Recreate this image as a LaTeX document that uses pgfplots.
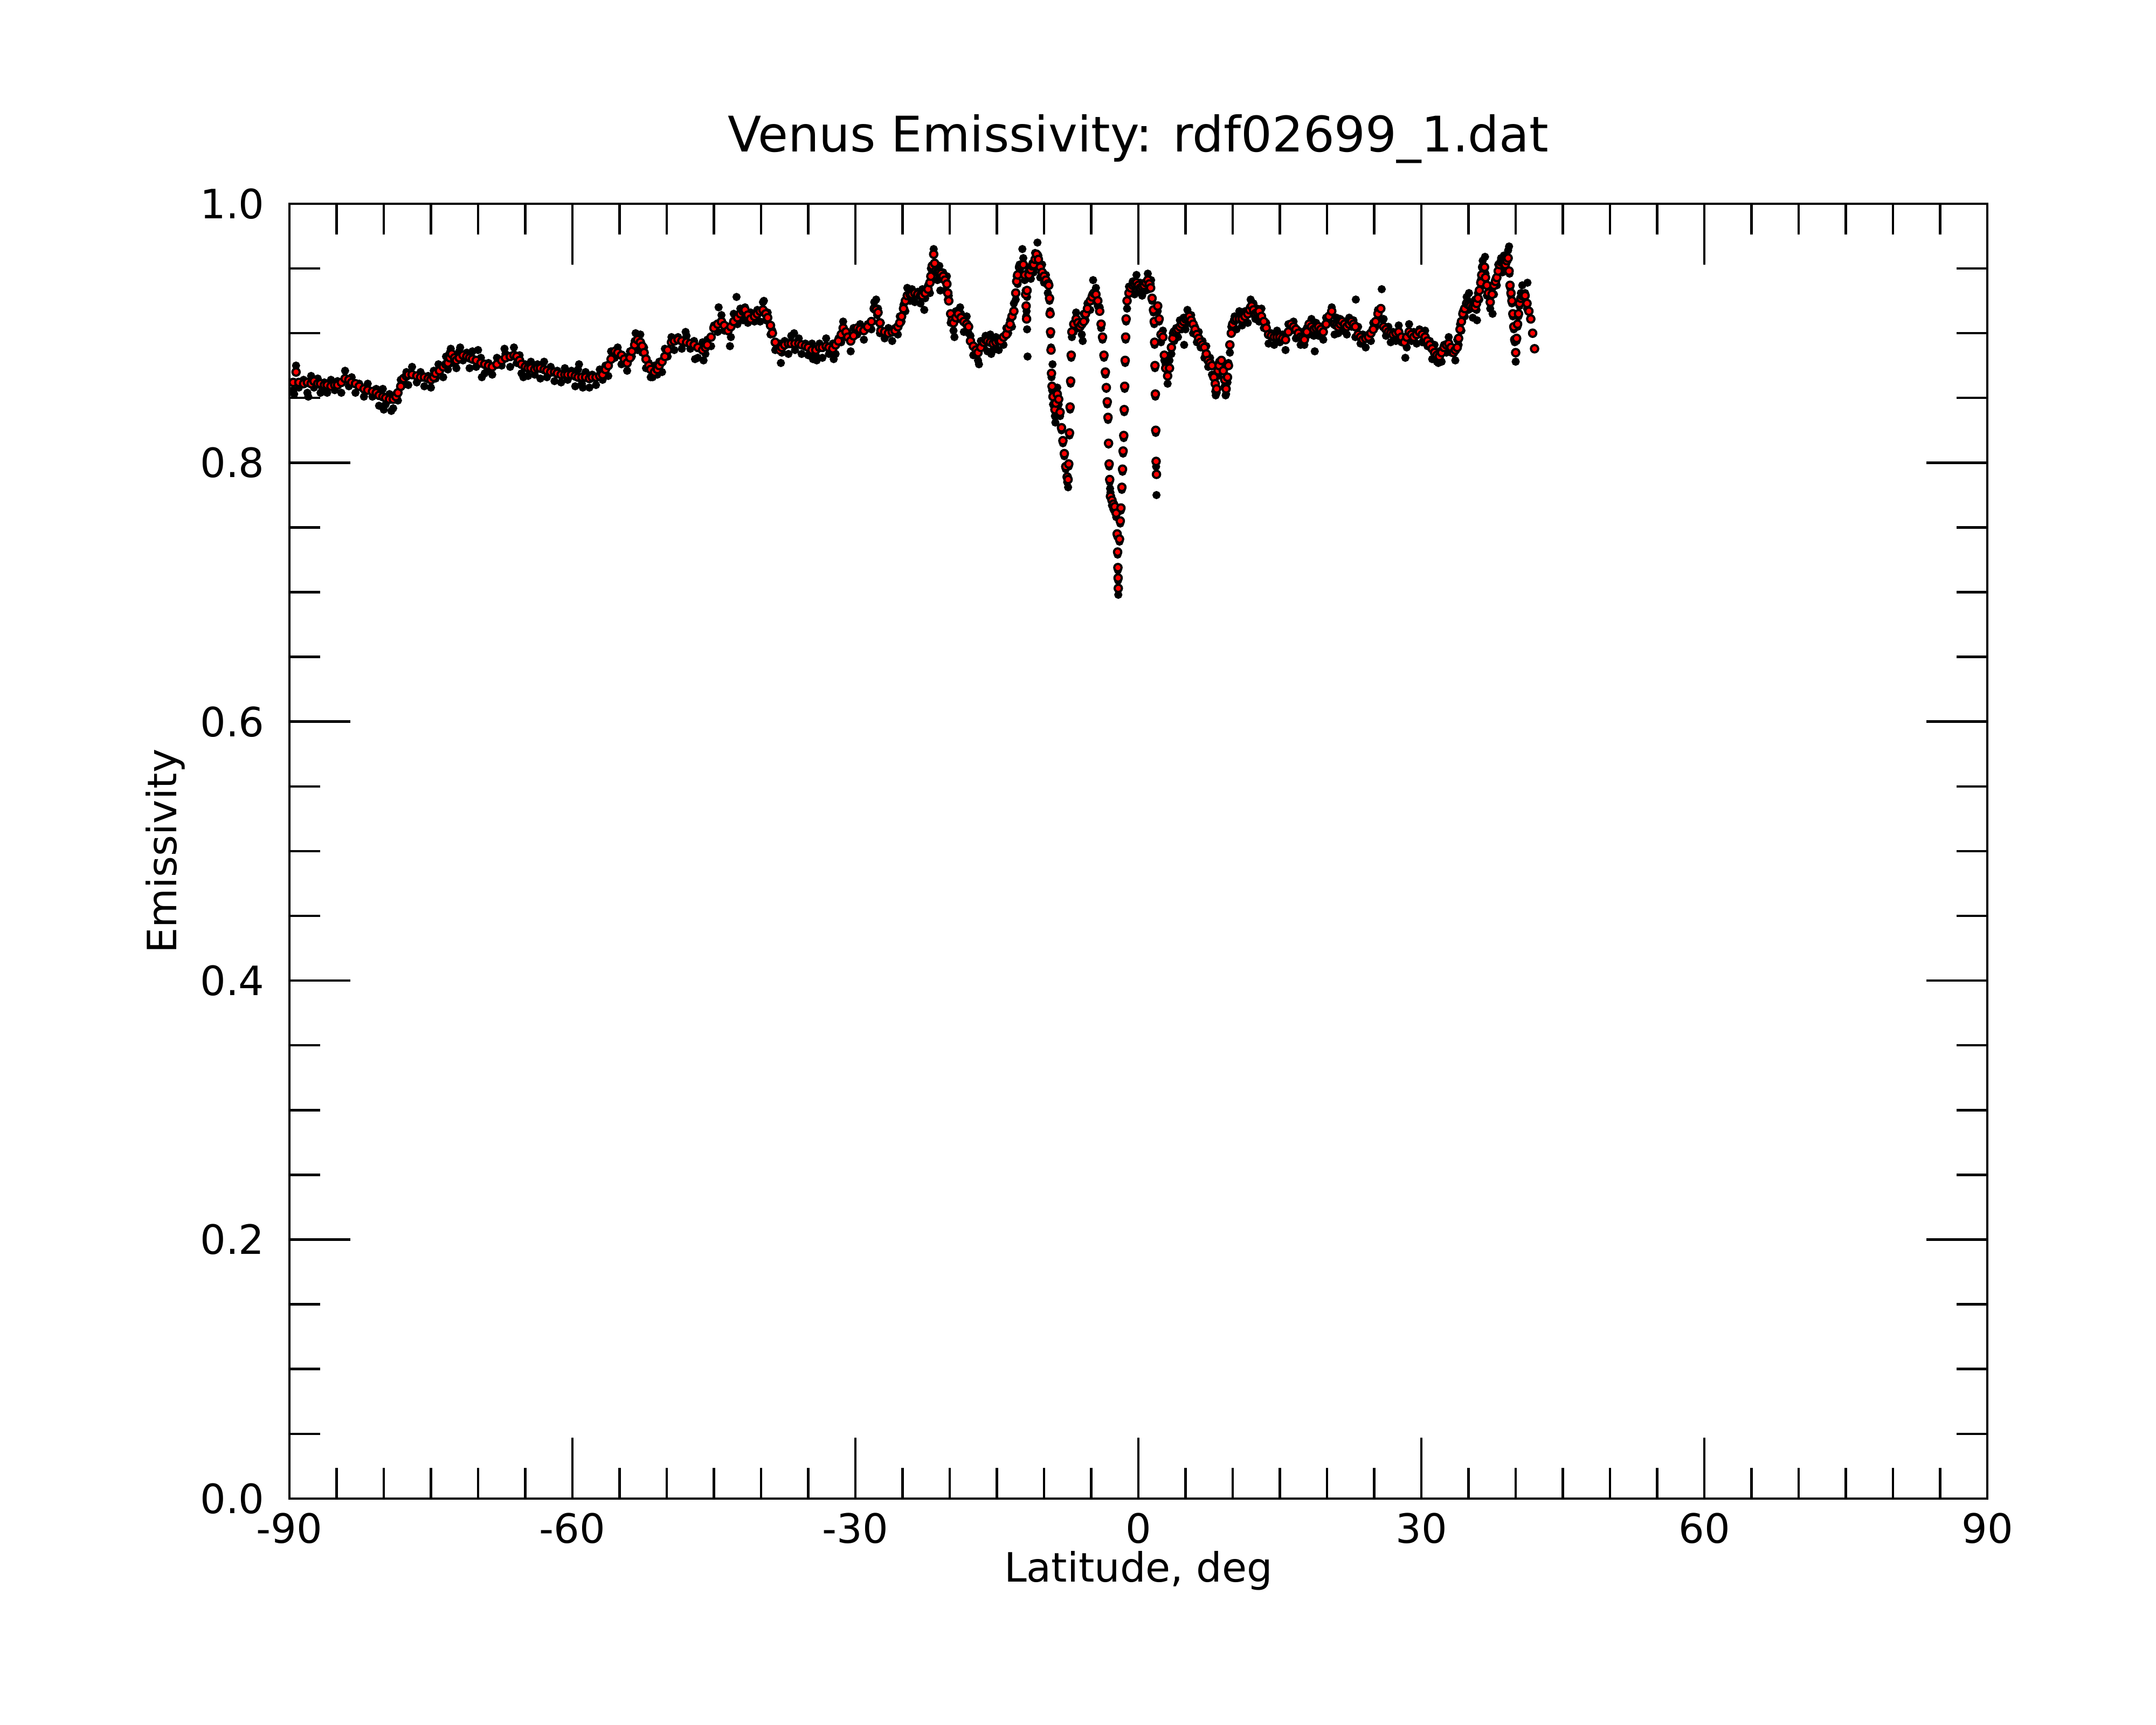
\documentclass[border=0pt]{standalone}
\usepackage{fontspec}
\setmainfont{DejaVu Sans}
\usepackage{pgfplots}
\pgfplotsset{compat=1.18}
\begin{document}
\begin{tikzpicture}
\useasboundingbox (0,0) rectangle (400pt,320pt);
\begin{axis}[
  at={(53.7pt,42pt)}, anchor=south west,
  width=315.0pt, height=240.2pt, scale only axis,
  xmin=-90, xmax=90, ymin=0, ymax=1,
  xtick={-90,-60,-30,0,30,60,90},
  ytick={0,0.2,0.4,0.6,0.8,1.0},
  minor x tick num=5, minor y tick num=3,
  xtick pos=both, ytick pos=both,
  xticklabel pos=lower, yticklabel pos=left,
  tick align=inside,
  major tick length=11.3pt, minor tick length=5.7pt,
  every tick/.style={black, line width=0.45pt},
  axis line style={line width=0.45pt},
  /pgf/number format/assume math mode=true,
  tick label style={font=\fontsize{7.5}{9}\selectfont},
  xticklabel style={yshift=0.8pt},
  yticklabel style={xshift=-1.1pt, /pgf/number format/.cd, fixed, fixed zerofill, precision=1},
  title={Venus Emissivity: rdf02699\_1.dat},
  title style={at={(axis description cs:0.5,1.040)}, anchor=base, yshift=-6pt, font=\fontsize{9.1}{11}\selectfont},
  xlabel={Latitude, deg},
  xlabel style={at={(axis description cs:0.5,-0.0645)}, anchor=base, font=\fontsize{7.5}{9}\selectfont},
  ylabel={Emissivity},
  ylabel style={at={(axis description cs:-0.0665,0.5)}, anchor=base, font=\fontsize{7.5}{9}\selectfont},
]
% raw measurements (black)
\addplot[only marks, mark=*, mark size=0.55pt, mark options={draw=none, fill=black}] table {
x y
-89.6 0.856
-89.5 0.853
-89.3 0.875
-89.0 0.858
-88.5 0.864
-88.1 0.854
-88.0 0.851
-87.7 0.867
-87.4 0.858
-87.0 0.865
-86.7 0.854
-86.5 0.857
-86.3 0.862
-86.0 0.854
-85.6 0.864
-85.2 0.856
-84.9 0.863
-84.5 0.854
-84.1 0.871
-83.7 0.859
-83.4 0.866
-83.0 0.854
-82.6 0.861
-82.1 0.851
-81.7 0.861
-81.2 0.851
-80.8 0.857
-80.5 0.844
-80.1 0.857
-80.0 0.841
-79.8 0.845
-79.4 0.853
-79.2 0.840
-79.0 0.842
-78.7 0.853
-78.5 0.848
-78.2 0.864
-77.9 0.861
-77.6 0.870
-77.4 0.860
-77.0 0.874
-76.5 0.862
-76.1 0.870
-75.7 0.859
-75.3 0.867
-75.0 0.858
-74.7 0.871
-74.5 0.865
-74.2 0.876
-74.1 0.874
-73.7 0.866
-73.4 0.882
-73.2 0.872
-73.0 0.885
-72.9 0.888
-72.8 0.877
-72.5 0.883
-72.3 0.873
-72.0 0.886
-71.9 0.889
-71.6 0.879
-71.2 0.885
-70.9 0.873
-70.6 0.886
-70.2 0.874
-70.0 0.887
-69.7 0.881
-69.6 0.866
-69.3 0.869
-69.0 0.872
-68.9 0.877
-68.5 0.868
-68.0 0.881
-67.5 0.875
-67.2 0.888
-67.1 0.884
-66.6 0.874
-66.2 0.889
-65.9 0.877
-65.6 0.883
-65.4 0.869
-65.2 0.866
-65.0 0.876
-64.7 0.867
-64.4 0.878
-64.0 0.868
-63.7 0.876
-63.4 0.865
-63.0 0.878
-62.7 0.866
-62.3 0.874
-61.9 0.863
-61.6 0.871
-61.2 0.862
-60.8 0.873
-60.5 0.864
-60.1 0.871
-59.7 0.859
-59.4 0.872
-59.3 0.876
-59.0 0.861
-58.9 0.858
-58.6 0.870
-58.2 0.858
-57.9 0.868
-57.5 0.860
-57.1 0.872
-56.8 0.864
-56.5 0.875
-56.2 0.867
-55.9 0.886
-55.5 0.881
-55.2 0.889
-54.8 0.876
-54.5 0.882
-54.2 0.871
-53.9 0.886
-53.7 0.882
-53.4 0.894
-53.3 0.900
-53.1 0.887
-52.8 0.899
-52.6 0.885
-52.4 0.889
-52.2 0.873
-51.9 0.877
-51.7 0.866
-51.5 0.866
-51.3 0.875
-51.0 0.868
-50.8 0.878
-50.5 0.870
-50.2 0.888
-49.9 0.882
-49.5 0.897
-49.2 0.887
-48.8 0.897
-48.4 0.888
-48.0 0.901
-47.9 0.898
-47.5 0.888
-47.1 0.894
-47.0 0.880
-46.7 0.881
-46.2 0.893
-46.1 0.879
-45.9 0.884
-45.7 0.895
-45.3 0.890
-45.0 0.906
-44.6 0.901
-44.5 0.920
-44.2 0.914
-43.9 0.902
-43.5 0.905
-43.3 0.890
-43.2 0.897
-42.9 0.915
-42.6 0.928
-42.5 0.907
-42.2 0.919
-41.9 0.910
-41.7 0.920
-41.4 0.908
-41.1 0.916
-40.7 0.909
-40.4 0.918
-40.1 0.909
-39.8 0.924
-39.7 0.925
-39.5 0.910
-39.3 0.916
-39.0 0.899
-38.8 0.902
-38.5 0.887
-38.0 0.892
-37.9 0.877
-37.8 0.885
-37.5 0.894
-37.1 0.884
-36.8 0.898
-36.5 0.900
-36.4 0.887
-36.0 0.896
-35.7 0.884
-35.3 0.892
-35.0 0.883
-34.6 0.892
-34.5 0.880
-34.2 0.883
-34.1 0.879
-33.8 0.892
-33.5 0.881
-33.1 0.896
-32.8 0.884
-32.4 0.892
-32.3 0.880
-32.1 0.884
-31.8 0.896
-31.5 0.893
-31.3 0.909
-31.0 0.897
-30.8 0.900
-30.5 0.886
-30.2 0.904
-29.8 0.899
-29.5 0.907
-29.1 0.895
-28.7 0.907
-28.3 0.903
-28.0 0.924
-27.8 0.926
-27.7 0.914
-27.6 0.919
-27.4 0.900
-27.3 0.908
-26.9 0.896
-26.5 0.904
-26.1 0.894
-25.8 0.904
-25.5 0.899
-25.3 0.913
-25.1 0.909
-24.9 0.922
-24.7 0.917
-24.5 0.935
-24.2 0.925
-24.0 0.934
-23.7 0.924
-23.4 0.932
-23.1 0.923
-22.9 0.934
-22.7 0.918
-22.6 0.927
-22.3 0.937
-22.1 0.931
-22.0 0.950
-21.85 0.947
-21.7 0.965
-21.6 0.947
-21.5 0.950
-21.3 0.941
-21.1 0.952
-21.0 0.933
-20.9 0.942
-20.7 0.947
-20.5 0.933
-20.3 0.944
-20.2 0.926
-20.1 0.929
-19.9 0.908
-19.75 0.912
-19.6 0.902
-19.5 0.897
-19.35 0.917
-19.1 0.911
-18.9 0.920
-18.8 0.915
-18.5 0.901
-18.2 0.913
-18.0 0.900
-17.8 0.898
-17.5 0.883
-17.2 0.889
-17.0 0.879
-16.9 0.876
-16.7 0.894
-16.4 0.889
-16.2 0.898
-16.0 0.886
-15.7 0.899
-15.6 0.884
-15.4 0.887
-15.1 0.897
-14.8 0.887
-14.6 0.896
-14.3 0.891
-14.0 0.904
-13.8 0.900
-13.6 0.910
-13.4 0.905
-13.2 0.923
-13.0 0.926
-12.9 0.944
-12.8 0.938
-12.6 0.953
-12.4 0.946
-12.3 0.965
-12.2 0.958
-12.05 0.941
-11.95 0.933
-11.9 0.913
-11.85 0.917
-11.8 0.928
-11.8 0.903
-11.75 0.882
-11.6 0.949
-11.4 0.942
-11.25 0.954
-11.1 0.947
-10.95 0.962
-10.8 0.957
-10.7 0.970
-10.6 0.960
-10.4 0.943
-10.2 0.953
-10.0 0.939
-9.8 0.945
-9.6 0.931
-9.5 0.939
-9.42 0.925
-9.36 0.917
-9.31 0.899
-9.26 0.889
-9.21 0.866
-9.15 0.856
-9.1 0.876
-9.05 0.845
-8.85 0.836
-8.8 0.831
-8.75 0.850
-8.6 0.858
-8.45 0.845
-8.3 0.836
-8.15 0.825
-8.0 0.815
-7.85 0.805
-7.7 0.795
-7.55 0.785
-7.45 0.781
-7.38 0.797
-7.3 0.821
-7.24 0.841
-7.18 0.861
-7.12 0.881
-7.05 0.897
-6.85 0.901
-6.6 0.916
-6.4 0.904
-6.2 0.908
-6.0 0.899
-5.9 0.894
-5.8 0.915
-5.6 0.910
-5.4 0.923
-5.1 0.918
-4.9 0.930
-4.8 0.941
-4.7 0.925
-4.5 0.935
-4.3 0.921
-4.1 0.920
-3.95 0.904
-3.8 0.895
-3.65 0.881
-3.5 0.868
-3.4 0.857
-3.3 0.845
-3.22 0.833
-3.16 0.814
-3.1 0.797
-3.04 0.785
-3.0 0.780
-2.96 0.777
-2.8 0.767
-2.65 0.764
-2.5 0.762
-2.35 0.758
-2.25 0.743
-2.2 0.729
-2.17 0.717
-2.15 0.709
-2.13 0.698
-2.0 0.739
-1.92 0.753
-1.85 0.763
-1.75 0.779
-1.68 0.793
-1.62 0.807
-1.55 0.819
-1.5 0.839
-1.45 0.857
-1.4 0.877
-1.35 0.895
-1.3 0.909
-1.2 0.919
-1.0 0.936
-0.8 0.931
-0.6 0.940
-0.4 0.930
-0.2 0.945
0.0 0.932
0.2 0.939
0.4 0.929
0.6 0.939
0.8 0.933
1.0 0.946
1.15 0.934
1.3 0.938
1.35 0.941
1.45 0.925
1.6 0.916
1.68 0.907
1.72 0.891
1.76 0.873
1.8 0.851
1.84 0.823
1.88 0.797
1.92 0.775
2.05 0.917
2.2 0.909
2.4 0.893
2.6 0.902
2.75 0.879
2.9 0.876
3.1 0.861
3.3 0.879
3.5 0.884
3.65 0.900
3.8 0.894
4.0 0.904
4.2 0.897
4.4 0.910
4.6 0.903
4.8 0.912
4.85 0.891
5.0 0.903
5.2 0.918
5.4 0.908
5.6 0.914
5.8 0.900
6.0 0.905
6.2 0.893
6.4 0.901
6.6 0.889
6.8 0.894
7.0 0.881
7.2 0.890
7.4 0.874
7.6 0.881
7.8 0.868
8.0 0.868
8.15 0.855
8.2 0.852
8.3 0.854
8.45 0.867
8.55 0.878
8.8 0.871
9.0 0.877
9.15 0.859
9.25 0.852
9.3 0.853
9.45 0.862
9.55 0.877
9.7 0.885
9.85 0.905
10.0 0.903
10.2 0.913
10.4 0.903
10.7 0.917
11.0 0.906
11.3 0.917
11.6 0.908
11.8 0.920
11.9 0.926
12.0 0.915
12.2 0.923
12.4 0.911
12.6 0.919
12.8 0.909
13.05 0.919
13.3 0.904
13.55 0.908
13.8 0.892
14.1 0.900
14.4 0.891
14.7 0.902
15.0 0.893
15.3 0.899
15.6 0.887
15.9 0.907
16.2 0.902
16.45 0.909
16.7 0.896
16.95 0.902
17.2 0.891
17.4 0.901
17.6 0.891
17.85 0.904
18.1 0.899
18.35 0.911
18.6 0.898
18.7 0.886
18.85 0.908
19.1 0.898
19.35 0.905
19.6 0.895
19.9 0.912
20.2 0.909
20.5 0.920
20.8 0.899
21.0 0.912
21.2 0.900
21.4 0.911
21.6 0.902
21.85 0.909
22.1 0.899
22.35 0.912
22.6 0.905
22.8 0.910
23.0 0.897
23.05 0.926
23.3 0.905
23.55 0.892
23.8 0.899
24.1 0.889
24.4 0.899
24.65 0.894
24.9 0.908
25.15 0.905
25.4 0.918
25.7 0.911
25.8 0.934
26.0 0.911
26.25 0.898
26.5 0.905
26.75 0.893
27.0 0.901
27.3 0.894
27.6 0.906
27.9 0.893
28.2 0.896
28.3 0.881
28.45 0.889
28.7 0.907
28.95 0.894
29.2 0.901
29.5 0.892
29.8 0.903
30.1 0.893
30.4 0.902
30.65 0.890
30.9 0.894
31.15 0.880
31.4 0.891
31.65 0.878
31.8 0.877
31.9 0.886
32.15 0.878
32.4 0.891
32.65 0.885
32.9 0.897
33.15 0.885
33.4 0.888
33.6 0.879
33.8 0.895
33.95 0.891
34.1 0.907
34.25 0.902
34.4 0.917
34.6 0.913
34.8 0.928
35.0 0.918
35.05 0.931
35.2 0.924
35.45 0.912
35.7 0.926
35.85 0.918
35.9 0.910
36.0 0.931
36.15 0.926
36.3 0.941
36.4 0.939
36.5 0.956
36.7 0.947
36.75 0.959
36.8 0.946
36.95 0.929
37.1 0.937
37.3 0.919
37.5 0.934
37.55 0.915
37.7 0.930
37.85 0.942
38.0 0.937
38.15 0.953
38.3 0.949
38.45 0.958
38.6 0.947
38.75 0.960
38.9 0.948
39.05 0.960
39.2 0.964
39.3 0.967
39.35 0.946
39.4 0.935
39.5 0.929
39.6 0.923
39.7 0.913
39.8 0.903
39.9 0.893
40.0 0.878
40.1 0.894
40.2 0.905
40.3 0.913
40.4 0.921
40.55 0.931
40.7 0.937
40.85 0.926
41.0 0.931
41.2 0.919
41.25 0.939
};
% smoothed profile (red)
\addplot[only marks, mark=*, mark size=0.68pt, mark options={draw=none, fill=red}] table {
x y
-89.6 0.862
-89.3 0.870
-89.0 0.862
-88.5 0.861
-88.1 0.862
-87.7 0.861
-87.4 0.863
-87.0 0.861
-86.7 0.861
-86.3 0.860
-86.0 0.860
-85.6 0.859
-85.2 0.860
-84.9 0.860
-84.5 0.862
-84.1 0.865
-83.7 0.864
-83.4 0.862
-83.0 0.861
-82.6 0.859
-82.1 0.857
-81.7 0.856
-81.2 0.855
-80.8 0.854
-80.5 0.852
-80.1 0.851
-79.8 0.850
-79.4 0.849
-79.0 0.849
-78.7 0.851
-78.5 0.854
-78.2 0.859
-77.9 0.865
-77.6 0.867
-77.4 0.868
-77.0 0.868
-76.5 0.867
-76.1 0.866
-75.7 0.866
-75.3 0.865
-75.0 0.864
-74.7 0.866
-74.5 0.869
-74.1 0.871
-73.7 0.874
-73.4 0.876
-73.2 0.877
-73.0 0.881
-72.8 0.884
-72.5 0.881
-72.3 0.879
-72.0 0.881
-71.6 0.883
-71.2 0.882
-70.9 0.881
-70.6 0.880
-70.2 0.879
-69.7 0.877
-69.3 0.876
-68.9 0.875
-68.5 0.874
-68.0 0.876
-67.5 0.879
-67.1 0.881
-66.6 0.882
-66.2 0.883
-65.9 0.882
-65.6 0.879
-65.4 0.876
-65.0 0.874
-64.7 0.873
-64.4 0.873
-64.0 0.872
-63.7 0.873
-63.4 0.873
-63.0 0.872
-62.7 0.871
-62.3 0.870
-61.9 0.870
-61.6 0.869
-61.2 0.868
-60.8 0.868
-60.5 0.868
-60.1 0.868
-59.7 0.867
-59.4 0.866
-59.0 0.866
-58.6 0.866
-58.2 0.865
-57.9 0.866
-57.5 0.866
-57.1 0.867
-56.8 0.868
-56.5 0.872
-56.2 0.875
-55.9 0.880
-55.5 0.886
-55.2 0.885
-54.8 0.883
-54.5 0.880
-54.2 0.877
-53.9 0.881
-53.7 0.886
-53.4 0.891
-53.1 0.895
-52.8 0.893
-52.6 0.890
-52.4 0.885
-52.2 0.880
-51.9 0.875
-51.7 0.872
-51.3 0.870
-51.0 0.872
-50.8 0.875
-50.5 0.878
-50.2 0.882
-49.9 0.887
-49.5 0.893
-49.2 0.894
-48.8 0.895
-48.4 0.894
-47.9 0.893
-47.5 0.892
-47.1 0.891
-46.7 0.889
-46.2 0.887
-45.9 0.889
-45.7 0.891
-45.3 0.897
-45.0 0.904
-44.6 0.907
-44.2 0.909
-43.9 0.906
-43.5 0.902
-43.2 0.905
-42.9 0.909
-42.5 0.912
-42.2 0.915
-41.9 0.917
-41.7 0.918
-41.4 0.914
-41.1 0.911
-40.7 0.913
-40.4 0.915
-40.1 0.917
-39.8 0.918
-39.5 0.915
-39.3 0.912
-39.0 0.906
-38.8 0.900
-38.5 0.893
-38.0 0.887
-37.8 0.889
-37.5 0.891
-37.1 0.892
-36.8 0.892
-36.4 0.892
-36.0 0.892
-35.7 0.891
-35.3 0.890
-35.0 0.889
-34.6 0.887
-34.2 0.887
-33.8 0.889
-33.5 0.889
-33.1 0.890
-32.8 0.889
-32.4 0.888
-32.1 0.891
-31.8 0.894
-31.5 0.899
-31.3 0.904
-31.0 0.901
-30.8 0.897
-30.5 0.894
-30.2 0.898
-29.8 0.904
-29.5 0.903
-29.1 0.902
-28.7 0.905
-28.3 0.909
-28.0 0.919
-27.8 0.918
-27.6 0.916
-27.4 0.908
-27.3 0.902
-26.9 0.901
-26.5 0.900
-26.1 0.901
-25.8 0.902
-25.5 0.905
-25.3 0.908
-25.1 0.913
-24.9 0.919
-24.7 0.925
-24.5 0.929
-24.2 0.930
-24.0 0.930
-23.7 0.931
-23.4 0.930
-23.1 0.929
-22.9 0.929
-22.6 0.931
-22.3 0.934
-22.1 0.939
-22.0 0.944
-21.85 0.952
-21.7 0.961
-21.6 0.954
-21.5 0.948
-21.3 0.947
-21.1 0.947
-20.9 0.946
-20.7 0.944
-20.5 0.941
-20.3 0.938
-20.2 0.931
-20.1 0.925
-19.9 0.915
-19.75 0.910
-19.6 0.908
-19.35 0.912
-19.1 0.915
-18.8 0.912
-18.5 0.909
-18.2 0.907
-18.0 0.905
-17.8 0.894
-17.5 0.890
-17.2 0.887
-17.0 0.885
-16.7 0.889
-16.4 0.893
-16.2 0.895
-16.0 0.894
-15.7 0.893
-15.4 0.892
-15.1 0.893
-14.8 0.894
-14.6 0.894
-14.3 0.897
-14.0 0.899
-13.8 0.904
-13.6 0.907
-13.4 0.913
-13.2 0.917
-13.0 0.931
-12.9 0.940
-12.8 0.945
-12.6 0.951
-12.4 0.952
-12.2 0.953
-12.05 0.945
-11.95 0.930
-11.9 0.921
-11.85 0.911
-11.8 0.933
-11.6 0.945
-11.4 0.949
-11.25 0.952
-11.1 0.953
-10.95 0.957
-10.8 0.961
-10.6 0.957
-10.4 0.951
-10.2 0.947
-10.0 0.944
-9.8 0.941
-9.6 0.938
-9.5 0.937
-9.42 0.927
-9.36 0.915
-9.31 0.901
-9.26 0.887
-9.21 0.869
-9.15 0.859
-9.05 0.851
-8.85 0.841
-8.75 0.846
-8.6 0.853
-8.45 0.849
-8.3 0.839
-8.15 0.827
-8.0 0.817
-7.85 0.807
-7.7 0.797
-7.55 0.789
-7.45 0.787
-7.38 0.799
-7.3 0.823
-7.24 0.843
-7.18 0.863
-7.12 0.883
-7.05 0.901
-6.85 0.907
-6.6 0.911
-6.4 0.908
-6.2 0.905
-6.0 0.907
-5.8 0.909
-5.6 0.915
-5.4 0.919
-5.1 0.925
-4.9 0.928
-4.7 0.931
-4.5 0.930
-4.3 0.925
-4.1 0.917
-3.95 0.907
-3.8 0.897
-3.65 0.883
-3.5 0.870
-3.4 0.858
-3.3 0.847
-3.22 0.835
-3.16 0.815
-3.1 0.799
-3.04 0.787
-2.96 0.774
-2.8 0.771
-2.65 0.768
-2.5 0.766
-2.35 0.761
-2.25 0.745
-2.2 0.731
-2.17 0.719
-2.15 0.711
-2.13 0.703
-2.0 0.741
-1.92 0.755
-1.85 0.765
-1.75 0.781
-1.68 0.795
-1.62 0.809
-1.55 0.821
-1.5 0.841
-1.45 0.859
-1.4 0.879
-1.35 0.897
-1.3 0.911
-1.2 0.925
-1.0 0.931
-0.8 0.935
-0.6 0.937
-0.4 0.938
-0.2 0.939
0.0 0.937
0.2 0.935
0.4 0.936
0.6 0.937
0.8 0.939
1.0 0.941
1.15 0.938
1.3 0.935
1.45 0.927
1.6 0.918
1.68 0.909
1.72 0.893
1.76 0.875
1.8 0.853
1.84 0.825
1.88 0.801
1.92 0.791
2.05 0.921
2.2 0.911
2.4 0.899
2.6 0.897
2.75 0.883
2.9 0.873
3.1 0.867
3.3 0.873
3.5 0.889
3.65 0.896
3.8 0.901
4.0 0.902
4.2 0.903
4.4 0.905
4.6 0.907
4.8 0.909
5.0 0.911
5.2 0.912
5.4 0.913
5.6 0.910
5.8 0.907
6.0 0.903
6.2 0.899
6.4 0.896
6.6 0.893
6.8 0.891
7.0 0.889
7.2 0.884
7.4 0.879
7.6 0.877
7.8 0.875
8.0 0.866
8.15 0.861
8.3 0.857
8.45 0.871
8.55 0.875
8.8 0.879
9.0 0.871
9.15 0.864
9.3 0.857
9.45 0.866
9.55 0.875
9.7 0.891
9.85 0.900
10.0 0.907
10.2 0.910
10.4 0.911
10.7 0.911
11.0 0.911
11.3 0.913
11.6 0.915
11.8 0.918
12.0 0.921
12.2 0.918
12.4 0.915
12.6 0.916
12.8 0.917
13.05 0.913
13.3 0.909
13.55 0.904
13.8 0.899
14.1 0.898
14.4 0.897
14.7 0.897
15.0 0.897
15.3 0.896
15.6 0.895
15.9 0.901
16.2 0.907
16.45 0.905
16.7 0.903
16.95 0.900
17.2 0.897
17.4 0.896
17.6 0.895
17.85 0.901
18.1 0.907
18.35 0.905
18.6 0.903
18.85 0.904
19.1 0.905
19.35 0.903
19.6 0.901
19.9 0.907
20.2 0.913
20.5 0.917
20.8 0.907
21.0 0.906
21.2 0.905
21.4 0.907
21.6 0.909
21.85 0.907
22.1 0.905
22.35 0.907
22.6 0.909
22.8 0.907
23.0 0.905
23.3 0.899
23.55 0.897
23.8 0.895
24.1 0.896
24.4 0.897
24.65 0.900
24.9 0.903
25.15 0.909
25.4 0.915
25.7 0.919
26.0 0.905
26.25 0.903
26.5 0.901
26.75 0.900
27.0 0.899
27.3 0.900
27.6 0.901
27.9 0.897
28.2 0.893
28.45 0.897
28.7 0.901
28.95 0.899
29.2 0.897
29.5 0.899
29.8 0.901
30.1 0.899
30.4 0.897
30.65 0.894
30.9 0.891
31.15 0.888
31.4 0.885
31.65 0.883
31.9 0.882
32.15 0.885
32.4 0.889
32.65 0.891
32.9 0.892
33.15 0.889
33.4 0.885
33.6 0.887
33.8 0.889
33.95 0.896
34.1 0.903
34.25 0.909
34.4 0.915
34.6 0.919
34.8 0.923
35.0 0.922
35.2 0.921
35.45 0.920
35.7 0.920
35.85 0.923
36.0 0.927
36.15 0.933
36.3 0.939
36.4 0.945
36.5 0.951
36.7 0.951
36.8 0.943
36.95 0.937
37.1 0.931
37.3 0.924
37.5 0.930
37.7 0.937
37.85 0.940
38.0 0.943
38.15 0.948
38.3 0.953
38.45 0.955
38.6 0.955
38.75 0.954
38.9 0.953
39.05 0.956
39.2 0.958
39.3 0.948
39.4 0.937
39.5 0.931
39.6 0.925
39.7 0.915
39.8 0.905
39.9 0.895
40.0 0.885
40.1 0.896
40.2 0.907
40.3 0.915
40.4 0.923
40.55 0.927
40.7 0.929
40.85 0.930
41.0 0.929
41.2 0.923
41.4 0.917
41.6 0.911
41.8 0.900
42.0 0.888
};
\end{axis}
\end{tikzpicture}
\end{document}
